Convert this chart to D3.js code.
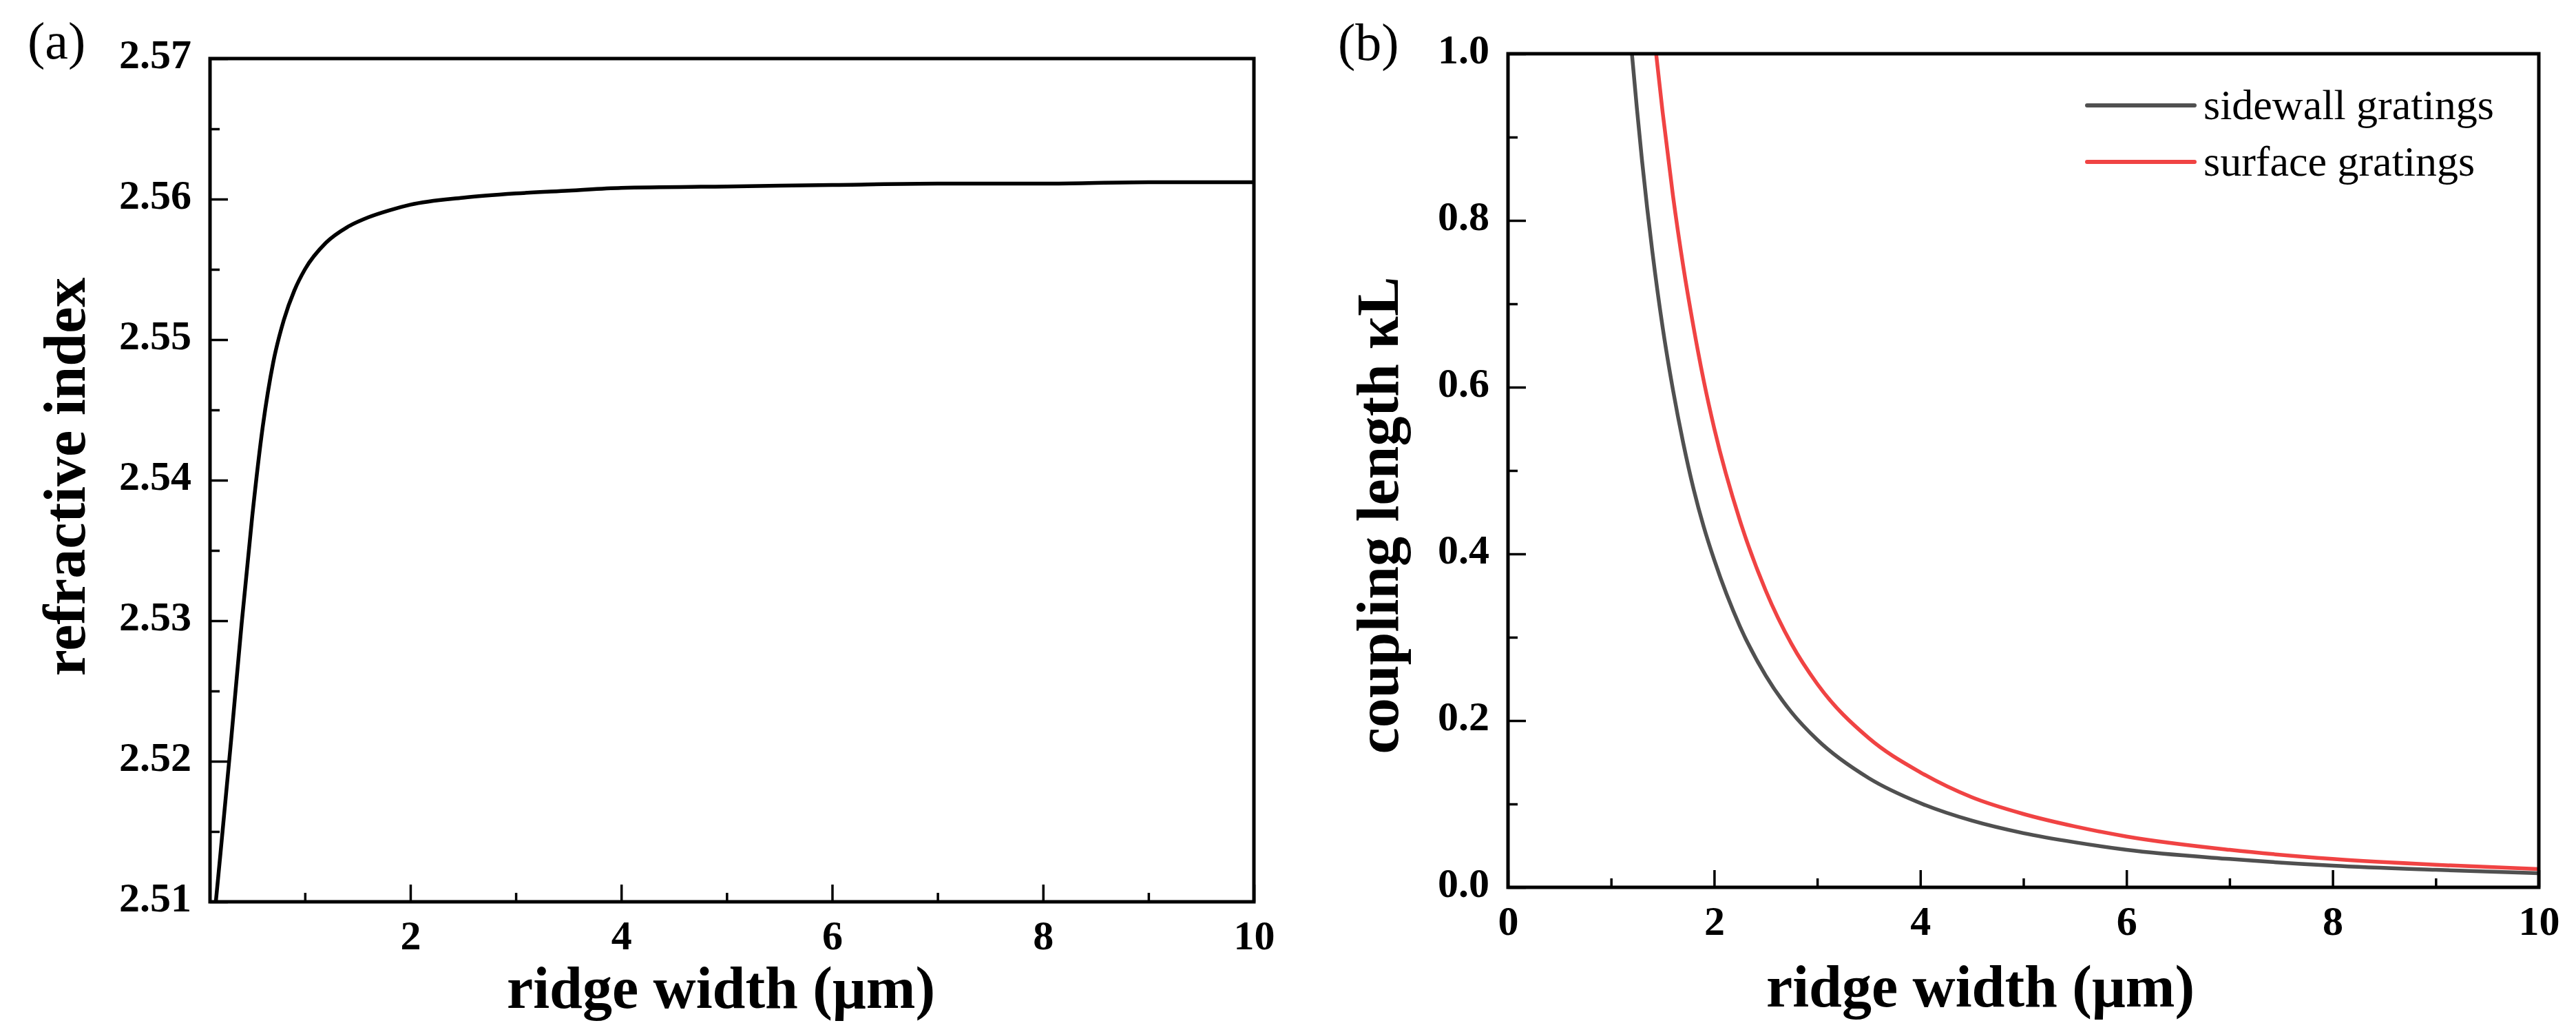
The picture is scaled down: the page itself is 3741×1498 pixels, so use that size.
<!DOCTYPE html>
<html>
<head>
<meta charset="utf-8">
<script src="https://cdn.jsdelivr.net/npm/d3@7"></script>
<style>
  html, body { margin: 0; padding: 0; background: #ffffff; }
  svg { display: block; }
  text { font-family: "Liberation Serif", "DejaVu Serif", serif; fill: #000; }
</style>
</head>
<body>
<svg id="chart" width="3741" height="1498"></svg>
<script>
// ---------------- data ----------------
// Panel (a): refractive index vs ridge width
const aWidth = [0.155, 0.2, 0.3, 0.4, 0.5, 0.6, 0.7, 0.8, 0.9, 1.0, 1.2, 1.4, 1.6, 1.8, 2.0, 2.5, 3.0, 3.5, 4.0, 5.0, 6.0, 7.0, 8.0, 9.0, 10.0];
const aIndex = [2.5100, 2.5135, 2.5215, 2.5298, 2.5374, 2.5438, 2.5484, 2.5514, 2.5535, 2.5550, 2.5569, 2.5580, 2.5587, 2.5592, 2.5596, 2.5601, 2.5604, 2.5606, 2.5608, 2.5609, 2.5610, 2.5611, 2.5611, 2.5612, 2.5612];

// Panel (b): coupling length vs ridge width
const sidewallWidth = [1.18, 1.25, 1.30, 1.35, 1.40, 1.50, 1.60, 1.70, 1.80, 1.90, 2.00, 2.25, 2.50, 2.75, 3.00, 3.50, 4.00, 4.50, 5.00, 5.50, 6.00, 7.00, 8.00, 9.00, 10.0];
const sidewallKL    = [1.03, 0.935, 0.872, 0.815, 0.763, 0.672, 0.597, 0.533, 0.478, 0.432, 0.393, 0.313, 0.254, 0.210, 0.177, 0.131, 0.101, 0.080, 0.065, 0.054, 0.045, 0.034, 0.026, 0.021, 0.017];
const surfaceWidth  = [1.41, 1.50, 1.60, 1.70, 1.80, 1.90, 2.00, 2.25, 2.50, 2.75, 3.00, 3.50, 4.00, 4.50, 5.00, 5.50, 6.00, 7.00, 8.00, 9.00, 10.0];
const surfaceKL     = [1.03, 0.93, 0.83, 0.745, 0.672, 0.607, 0.551, 0.440, 0.356, 0.292, 0.244, 0.179, 0.138, 0.108, 0.088, 0.073, 0.061, 0.045, 0.034, 0.027, 0.022];

// ticks
const aYTicks = [2.51, 2.52, 2.53, 2.54, 2.55, 2.56, 2.57];
const aYMinor = [2.515, 2.525, 2.535, 2.545, 2.555, 2.565];
const aXTicks = [2, 4, 6, 8, 10];
const aXMinor = [1, 3, 5, 7, 9];
const bYTicks = [0, 0.2, 0.4, 0.6, 0.8, 1.0];
const bYMinor = [0.1, 0.3, 0.5, 0.7, 0.9];
const bXTicks = [0, 2, 4, 6, 8, 10];
const bXMinor = [1, 3, 5, 7, 9];

const seriesNames = ["sidewall gratings", "surface gratings"];
const seriesColors = ["#505050", "#f04343"];

// ---------------- drawing ----------------
const svg = d3.select("#chart");
svg.append("rect").attr("width", 3741).attr("height", 1498).attr("fill", "#ffffff");

function panel(cfg) {
  const g = svg.append("g");
  const [L, R, T, B] = [cfg.left, cfg.right, cfg.top, cfg.bottom];
  const x = d3.scaleLinear().domain(cfg.xDomain).range([L, R]);
  const y = d3.scaleLinear().domain(cfg.yDomain).range([B, T]);

  const clipId = "clip-" + cfg.id;
  svg.append("defs").append("clipPath").attr("id", clipId)
    .append("rect").attr("x", L).attr("y", T).attr("width", R - L).attr("height", B - T);

  // curves
  const lines = g.append("g").attr("clip-path", `url(#${clipId})`);
  cfg.series.forEach(s => {
    const pts = s.xs.map((v, i) => [v, s.ys[i]]);
    lines.append("path")
      .attr("d", d3.line().x(d => x(d[0])).y(d => y(d[1])).curve(d3.curveMonotoneX)(pts))
      .attr("fill", "none").attr("stroke", s.color).attr("stroke-width", 5.5)
      .attr("stroke-linejoin", "round");
  });

  // x axis (ticks inward)
  const xAxis = g.append("g").attr("transform", `translate(0,${B})`)
    .call(d3.axisBottom(x).tickValues(cfg.xTicks).tickSizeInner(-25).tickSizeOuter(0)
      .tickPadding(0).tickFormat(cfg.xFormat));
  xAxis.select(".domain").remove();
  xAxis.selectAll(".tick line").attr("stroke", "#000").attr("stroke-width", 3.5);
  xAxis.selectAll(".tick text").attr("y", 69).attr("dy", null)
    .style("font-size", "60px").style("font-weight", "bold");

  const xMinor = g.append("g").attr("transform", `translate(0,${B})`)
    .call(d3.axisBottom(x).tickValues(cfg.xMinor).tickSizeInner(-13).tickSizeOuter(0).tickFormat(""));
  xMinor.select(".domain").remove();
  xMinor.selectAll(".tick line").attr("stroke", "#000").attr("stroke-width", 3.5);

  // y axis (ticks inward)
  const yAxis = g.append("g").attr("transform", `translate(${L},0)`)
    .call(d3.axisLeft(y).tickValues(cfg.yTicks).tickSizeInner(-26).tickSizeOuter(0)
      .tickPadding(27).tickFormat(cfg.yFormat));
  yAxis.select(".domain").remove();
  yAxis.selectAll(".tick line").attr("stroke", "#000").attr("stroke-width", 3.5);
  yAxis.selectAll(".tick text").attr("x", -27).attr("dy", null).attr("y", 13)
    .style("font-size", "60px").style("font-weight", "bold");

  const yMinor = g.append("g").attr("transform", `translate(${L},0)`)
    .call(d3.axisLeft(y).tickValues(cfg.yMinor).tickSizeInner(-14).tickSizeOuter(0).tickFormat(""));
  yMinor.select(".domain").remove();
  yMinor.selectAll(".tick line").attr("stroke", "#000").attr("stroke-width", 3.5);

  // frame
  g.append("rect").attr("x", L).attr("y", T).attr("width", R - L).attr("height", B - T)
    .attr("fill", "none").attr("stroke", "#000").attr("stroke-width", 5);

  // titles
  g.append("text").attr("x", cfg.xTitleX).attr("y", cfg.xTitleY)
    .attr("text-anchor", "middle").style("font-size", "86px").style("font-weight", "bold")
    .text("ridge width (μm)");
  g.append("text")
    .attr("transform", `translate(${cfg.yTitleX},${cfg.yTitleY}) rotate(-90)`)
    .attr("text-anchor", "middle").style("font-size", "86px").style("font-weight", "bold")
    .text(cfg.yTitle);
  g.append("text").attr("x", cfg.tagX).attr("y", cfg.tagY)
    .style("font-size", "76px").text(cfg.tag);

  return { x, y, g };
}

panel({
  id: "a", left: 305, right: 1821, top: 85, bottom: 1309,
  xDomain: [0.1, 10], yDomain: [2.51, 2.57],
  xTicks: aXTicks, xMinor: aXMinor, yTicks: aYTicks, yMinor: aYMinor,
  xFormat: d3.format("d"), yFormat: d3.format(".2f"),
  series: [{ xs: aWidth, ys: aIndex, color: "#000000" }],
  xTitleX: 1047, xTitleY: 1463,
  yTitle: "refractive index", yTitleX: 123, yTitleY: 692,
  tag: "(a)", tagX: 40, tagY: 85
});

panel({
  id: "b", left: 2190, right: 3687, top: 78, bottom: 1288,
  xDomain: [0, 10], yDomain: [0, 1],
  xTicks: bXTicks, xMinor: bXMinor, yTicks: bYTicks, yMinor: bYMinor,
  xFormat: d3.format("d"), yFormat: d3.format(".1f"),
  series: [
    { xs: sidewallWidth, ys: sidewallKL, color: seriesColors[0] },
    { xs: surfaceWidth, ys: surfaceKL, color: seriesColors[1] }
  ],
  xTitleX: 2876, xTitleY: 1461,
  yTitle: "coupling length κL", yTitleX: 2030, yTitleY: 748,
  tag: "(b)", tagX: 1943, tagY: 87
});

// legend
const legend = svg.append("g");
const legendY = [153, 235];
seriesNames.forEach((name, i) => {
  legend.append("line").attr("x1", 3031).attr("x2", 3187)
    .attr("y1", legendY[i]).attr("y2", legendY[i])
    .attr("stroke", seriesColors[i]).attr("stroke-width", 6).attr("stroke-linecap", "round");
  legend.append("text").attr("x", 3200).attr("y", legendY[i] + 20)
    .style("font-size", "62px").text(name);
});
</script>
</body>
</html>
